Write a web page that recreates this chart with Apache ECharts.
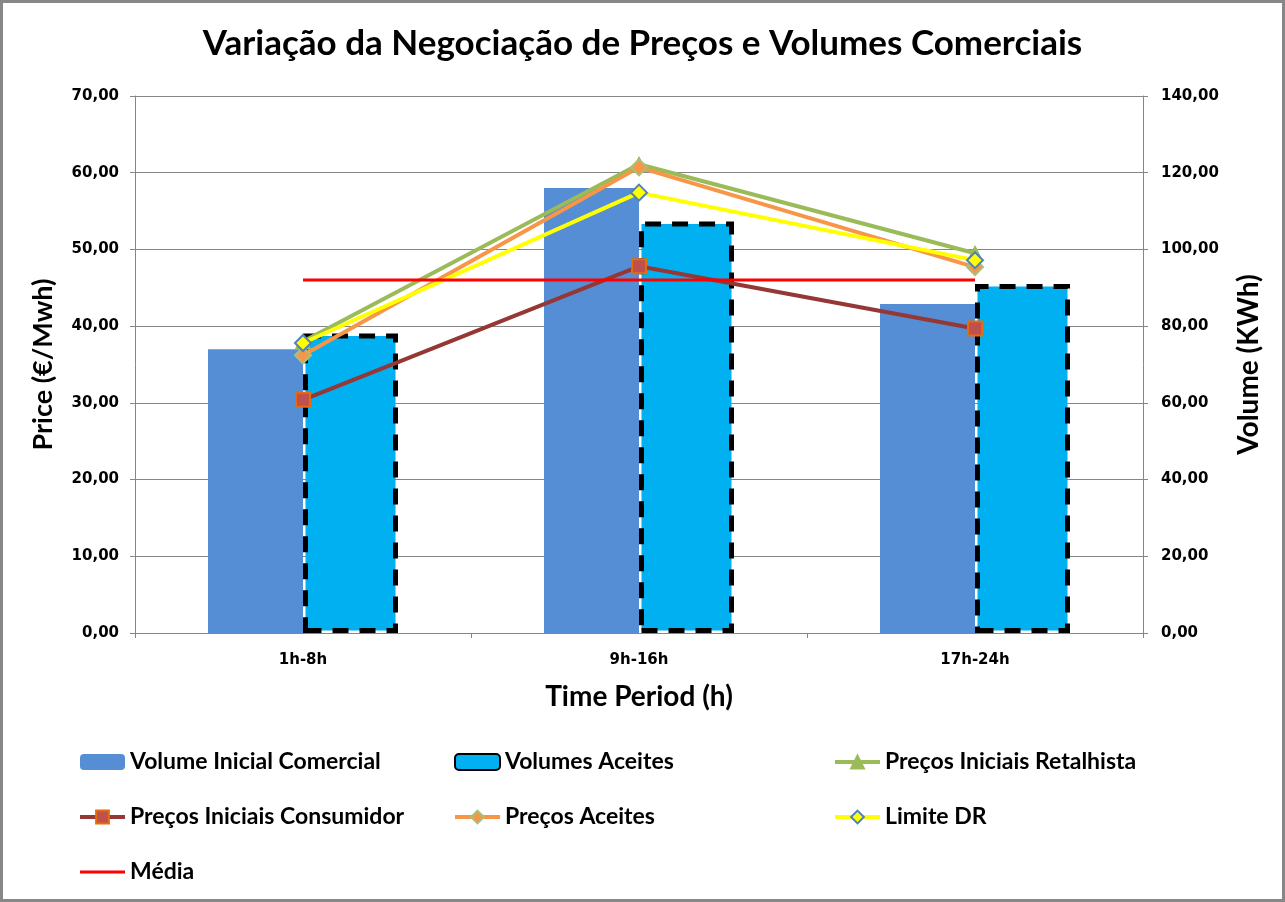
<!DOCTYPE html>
<html>
<head>
<meta charset="utf-8">
<script src="https://cdn.jsdelivr.net/npm/echarts@6/dist/echarts.min.js"></script>
<style>
html,body{margin:0;padding:0;background:#fff;}
#chart{width:1285px;height:902px;box-sizing:border-box;border:3px solid #878787;}
</style>
</head>
<body>
<div id="chart"></div>
<script>
const categories = ['1h-8h', '9h-16h', '17h-24h'];
const volumeInicialComercial = [74.0, 116.0, 85.8];
const volumesAceites = [78.1, 107.3, 91.0];
const precosIniciaisRetalhista = [38.0, 61.1, 49.5];
const precosIniciaisConsumidor = [30.4, 47.8, 39.7];
const precosAceites = [36.2, 60.7, 47.7];
const limiteDR = [37.8, 57.4, 48.6];
const media = [46.0, 46.0, 46.0];
const priceTicks = {min: 0, max: 70, interval: 10};
const volumeTicks = {min: 0, max: 140, interval: 20};

const chart = echarts.init(document.getElementById('chart'), null, {renderer: 'canvas'});
const fmt = v => v.toFixed(2).replace('.', ',');
const tickFont = {fontFamily: 'DejaVu Sans', fontWeight: 'bold', fontSize: 15, color: '#000'};
const nameFont = {fontFamily: 'Lato', fontWeight: 'bold', fontSize: 27, color: '#000'};
const legendText = {fontFamily: 'Lato', fontWeight: 'bold', fontSize: 23, color: '#000', lineHeight: 24};
const legendCommon = {orient: 'vertical', itemGap: 31, itemWidth: 45, itemHeight: 16,
  textStyle: legendText, lineStyle: {width: 'inherit'}};
const mediaIcon = 'path://M0,0 L45,0 L45,3 L0,3 Z';

chart.setOption({
  animation: false,
  title: {
    text: 'Variação da Negociação de Preços e Volumes Comerciais',
    left: 'center', top: 18,
    textStyle: {fontFamily: 'Lato', fontWeight: 'bold', fontSize: 35, color: '#000'}
  },
  grid: {left: 132, right: 139, top: 93, bottom: 266, containLabel: false},
  legend: [
    Object.assign({left: 70, top: 742, data: ['Volume Inicial Comercial', 'Preços Iniciais Consumidor', {name: 'Média', icon: mediaIcon}]}, legendCommon),
    Object.assign({left: 445, top: 742, data: ['Volumes Aceites', 'Preços Aceites']}, legendCommon),
    Object.assign({left: 825, top: 742, data: ['Preços Iniciais Retalhista', 'Limite DR']}, legendCommon)
  ],
  xAxis: {
    type: 'category', data: categories,
    name: 'Time Period (h)', nameLocation: 'middle', nameGap: 50,
    nameTextStyle: Object.assign({}, nameFont, {fontSize: 28}),
    axisLine: {lineStyle: {color: '#868686', width: 1}},
    axisTick: {show: true, length: 5, lineStyle: {color: '#868686'}},
    axisLabel: Object.assign({margin: 20}, tickFont)
  },
  yAxis: [
    {
      type: 'value', min: priceTicks.min, max: priceTicks.max, interval: priceTicks.interval,
      name: 'Price (€/Mwh)', nameLocation: 'middle', nameGap: 78, nameRotate: 90,
      nameTextStyle: nameFont,
      axisLine: {show: true, lineStyle: {color: '#868686', width: 1}},
      axisTick: {show: true, length: 5, lineStyle: {color: '#868686'}},
      axisLabel: Object.assign({margin: 16, formatter: fmt}, tickFont),
      splitLine: {show: true, lineStyle: {color: '#868686', width: 1}}
    },
    {
      type: 'value', min: volumeTicks.min, max: volumeTicks.max, interval: volumeTicks.interval,
      name: 'Volume (KWh)', nameLocation: 'middle', nameGap: 92, nameRotate: 90,
      nameTextStyle: Object.assign({}, nameFont, {fontSize: 28}),
      axisLine: {show: true, lineStyle: {color: '#868686', width: 1}},
      axisTick: {show: true, length: 5, lineStyle: {color: '#868686'}},
      axisLabel: Object.assign({margin: 18, formatter: fmt}, tickFont),
      splitLine: {show: false}
    }
  ],
  series: [
    {
      name: 'Volume Inicial Comercial', type: 'bar', yAxisIndex: 1, data: volumeInicialComercial,
      barWidth: 95, barGap: '0%',
      itemStyle: {color: '#558ED5'}
    },
    {
      name: 'Volumes Aceites', type: 'bar', yAxisIndex: 1, data: volumesAceites,
      barWidth: 95, barGap: '0%',
      itemStyle: {color: '#00B0F0', borderColor: '#000', borderWidth: 5, borderType: [16, 11]}
    },
    {
      name: 'Preços Iniciais Retalhista', type: 'line', yAxisIndex: 0, data: precosIniciaisRetalhista,
      symbol: 'triangle', symbolSize: 15,
      lineStyle: {color: '#9BBB59', width: 4},
      itemStyle: {color: '#9BBB59', borderColor: '#9BBB59', borderWidth: 1}
    },
    {
      name: 'Preços Iniciais Consumidor', type: 'line', yAxisIndex: 0, data: precosIniciaisConsumidor,
      symbol: 'rect', symbolSize: 14,
      lineStyle: {color: '#953735', width: 4},
      itemStyle: {color: '#C0504D', borderColor: '#E46C0A', borderWidth: 2}
    },
    {
      name: 'Preços Aceites', type: 'line', yAxisIndex: 0, data: precosAceites,
      symbol: 'diamond', symbolSize: 16,
      lineStyle: {color: '#F79646', width: 4},
      itemStyle: {color: '#F79646', borderColor: '#A9C07A', borderWidth: 2}
    },
    {
      name: 'Limite DR', type: 'line', yAxisIndex: 0, data: limiteDR,
      symbol: 'diamond', symbolSize: 16,
      lineStyle: {color: '#FFFF00', width: 4},
      itemStyle: {color: '#FFFF00', borderColor: '#4F81BD', borderWidth: 2}
    },
    {
      name: 'Média', type: 'line', yAxisIndex: 0, data: media,
      symbol: 'none', showSymbol: false,
      lineStyle: {color: '#FF0000', width: 3},
      itemStyle: {color: '#FF0000'}
    }
  ]
});
</script>
</body>
</html>
